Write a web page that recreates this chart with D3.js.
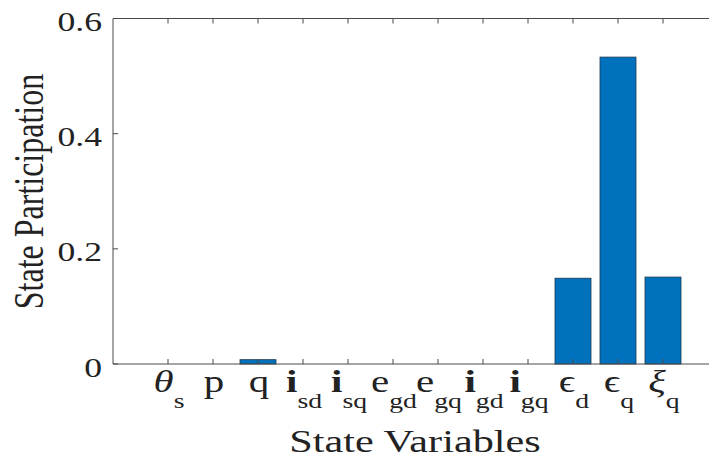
<!DOCTYPE html>
<html>
<head>
<meta charset="utf-8">
<script src="https://cdn.jsdelivr.net/npm/d3@7"></script>
<style>
  body { margin: 0; background: #fff; }
  svg { display: block; }
  text { font-family: "Liberation Serif", "Times New Roman", serif; fill: #222; }
</style>
</head>
<body>
<svg id="chart" width="709" height="459"></svg>
<script>
// state variables (main symbol, subscript, bold main?)
var symbols = ["\u03B8", "p", "q", "i", "i", "e", "e", "i", "i", "\u03F5", "\u03F5", "\u03BE"];
var subs    = ["s", "", "", "sd", "sq", "gd", "gq", "gd", "gq", "d", "q", "q"];
var boldMain = [false, false, false, true, true, false, false, true, true, false, false, false];
var italicMain = [true, false, false, false, false, false, false, false, false, false, false, true];

// participation values
var participation = [0, 0, 0.0075, 0, 0, 0, 0, 0, 0, 0.149, 0.533, 0.151];

var yTicks = [0, 0.2, 0.4, 0.6];
var yTickLabels = ["0", "0.2", "0.4", "0.6"];

var categories = symbols.map(function(s, i){ return i; });

var svg = d3.select("#chart");

// the picture is stretched sideways, so text is widened to match
var stretch = 1.32;

var plotLeft = 113, plotTop = 18.5, plotBottom = 364, plotRight = 730;

var x = d3.scalePoint().domain(categories).range([168, 663]);
var barWidth = x.step() * 0.8;

var y = d3.scaleLinear().domain([0, 0.6]).range([plotBottom, plotTop]);

// bars
svg.append("g").selectAll("rect")
  .data(participation)
  .enter().append("rect")
  .attr("x", function(d, i){ return x(i) - barWidth / 2; })
  .attr("y", function(d){ return y(d); })
  .attr("width", barWidth)
  .attr("height", function(d){ return y(0) - y(d); })
  .attr("fill", "#0072BD")
  .attr("stroke", "#1d3850")
  .attr("stroke-width", 0.8);

// axes box: left, bottom, top
var axisColor = "#4a4a4a";
svg.append("line").attr("x1", plotLeft).attr("x2", plotLeft).attr("y1", plotTop).attr("y2", plotBottom)
  .attr("stroke", axisColor).attr("stroke-width", 1);
svg.append("line").attr("x1", plotLeft).attr("x2", plotRight).attr("y1", plotBottom).attr("y2", plotBottom)
  .attr("stroke", axisColor).attr("stroke-width", 1);
svg.append("line").attr("x1", plotLeft).attr("x2", plotRight).attr("y1", plotTop).attr("y2", plotTop)
  .attr("stroke", axisColor).attr("stroke-width", 1);

// x ticks, inward on bottom and top
var tickLen = 5;
svg.append("g").selectAll("line")
  .data(categories)
  .enter().append("line")
  .attr("x1", function(d){ return x(d); })
  .attr("x2", function(d){ return x(d); })
  .attr("y1", plotBottom).attr("y2", plotBottom - tickLen)
  .attr("stroke", axisColor);
svg.append("g").selectAll("line")
  .data(categories)
  .enter().append("line")
  .attr("x1", function(d){ return x(d); })
  .attr("x2", function(d){ return x(d); })
  .attr("y1", plotTop).attr("y2", plotTop + tickLen)
  .attr("stroke", axisColor);

// y ticks, inward
svg.append("g").selectAll("line")
  .data(yTicks)
  .enter().append("line")
  .attr("x1", plotLeft).attr("x2", plotLeft + tickLen)
  .attr("y1", function(d){ return y(d); })
  .attr("y2", function(d){ return y(d); })
  .attr("stroke", axisColor);

// y tick labels
svg.append("g").selectAll("text")
  .data(yTicks)
  .enter().append("text")
  .attr("text-anchor", "end")
  .attr("font-size", 27)
  .attr("transform", function(d){ return "translate(102," + (y(d) + 12.5) + ") scale(" + stretch + ",1)"; })
  .text(function(d, i){ return yTickLabels[i]; });

// x tick labels with subscripts
var xl = svg.append("g").selectAll("text")
  .data(categories)
  .enter().append("text")
  .attr("text-anchor", "middle")
  .attr("font-size", 31)
  .attr("transform", function(d){ return "translate(" + (x(d) + 1) + ",392) scale(" + stretch + ",1)"; });

xl.append("tspan")
  .attr("font-weight", function(d){ return boldMain[d] ? "bold" : "normal"; })
  .attr("font-style", function(d){ return italicMain[d] ? "italic" : "normal"; })
  .text(function(d){ return symbols[d]; });

xl.append("tspan")
  .attr("font-size", 21)
  .attr("dy", 16)
  .text(function(d){ return subs[d]; });

// axis titles
svg.append("text")
  .attr("text-anchor", "middle")
  .attr("font-size", 32)
  .attr("transform", "translate(415,451.5) scale(" + stretch + ",1)")
  .text("State Variables");

svg.append("text")
  .attr("text-anchor", "middle")
  .attr("font-size", 32)
  .attr("transform", "translate(43,191.5) rotate(-90) scale(1," + stretch + ")")
  .text("State Participation");
</script>
</body>
</html>
